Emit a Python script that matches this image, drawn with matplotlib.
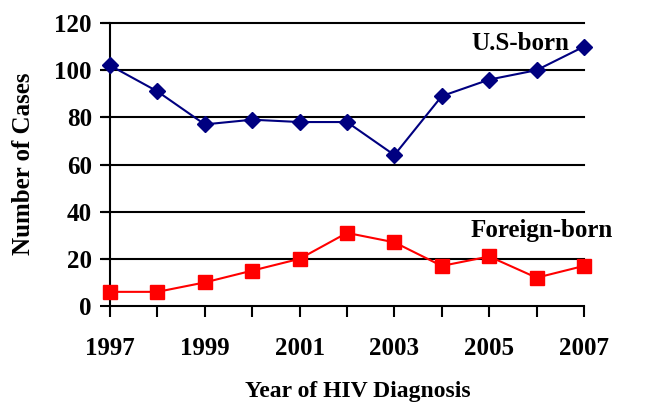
import numpy as np
import matplotlib
matplotlib.use('Agg')
import matplotlib.pyplot as plt

# data
years = [1997, 1998, 1999, 2000, 2001, 2002, 2003, 2004, 2005, 2006, 2007]
us_born = [102, 91, 77, 79, 78, 78, 64, 89, 96, 100, 110]
foreign_born = [6, 6, 10, 15, 20, 31, 27, 17, 21, 12, 17]
label_years = [1997, 1999, 2001, 2003, 2005, 2007]
y_ticks = [0, 20, 40, 60, 80, 100, 120]

plt.rcParams['font.family'] = ['Liberation Serif', 'DejaVu Serif']
plt.rcParams['font.weight'] = 'bold'

fig = plt.figure(figsize=(6.58, 4.04), dpi=100)
ax = fig.add_axes([110 / 658, 1 - 306 / 404, 474 / 658, 283 / 404])

# horizontal grid lines, drawn a bit to the left like the tick marks
for v in y_ticks[1:]:
    ax.plot([years[0] - 0.15, years[-1]], [v, v], color='black', lw=1.5,
            clip_on=False, zorder=1)

ax.plot(years, us_born, color='#000080', lw=1.5, marker='D', markersize=8,
        zorder=3, clip_on=False)
ax.plot(years, foreign_born, color='#FF0000', lw=1.5, marker='s', markersize=10,
        zorder=3, clip_on=False)

ax.set_xlim(years[0], years[-1])
ax.set_ylim(0, 120)

ax.spines['top'].set_visible(False)
ax.spines['right'].set_visible(False)
ax.spines['left'].set_linewidth(1.5)
ax.spines['bottom'].set_linewidth(1.5)

ax.set_yticks(y_ticks)
ax.set_xticks(years)
ax.set_xticklabels([str(y) if y in label_years else '' for y in years])
ax.tick_params(axis='y', direction='out', length=7, width=1.5, labelsize=18, pad=6)
ax.tick_params(axis='x', direction='out', length=8, width=1.5, labelsize=18, pad=14)
for lab in ax.get_xticklabels() + ax.get_yticklabels():
    lab.set_fontweight('bold')

ax.text(2004.62, 111.5, 'U.S-born', fontsize=18, fontweight='bold', va='center', ha='left')
ax.text(2004.6, 32, 'Foreign-born', fontsize=18, fontweight='bold', va='center', ha='left')

fig.text(358 / 658, 1 - 392 / 404, 'Year of HIV Diagnosis', fontsize=17,
         fontweight='bold', ha='center', va='center')
fig.text(24 / 658, 1 - 164 / 404, 'Number of Cases', fontsize=18,
         fontweight='bold', ha='center', va='center', rotation=90)

fig.savefig('out.png', dpi=100)
